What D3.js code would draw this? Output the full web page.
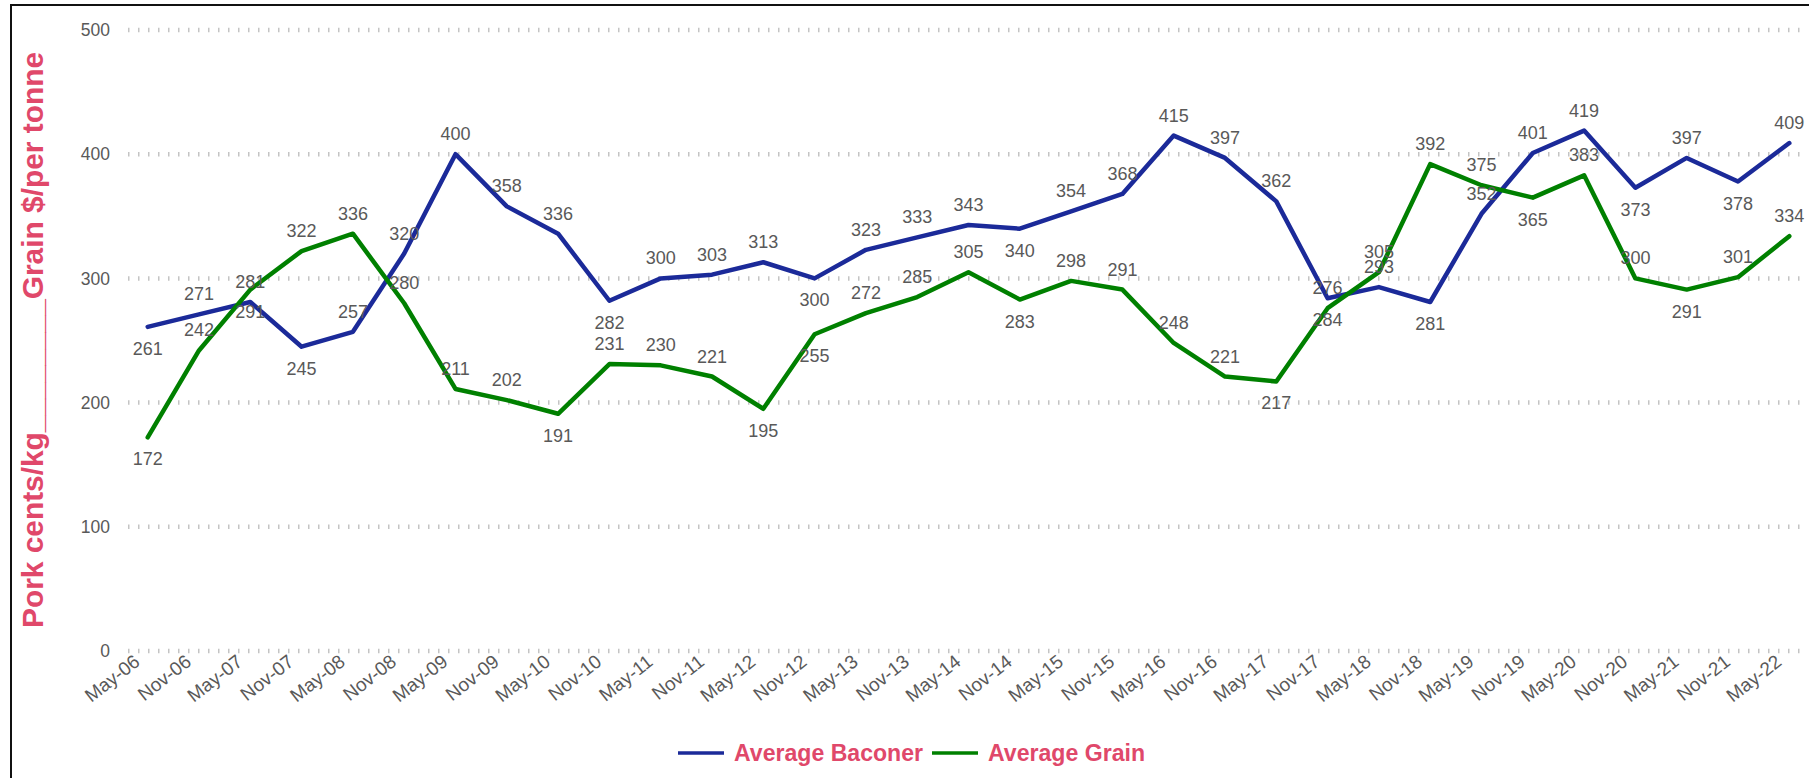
<!DOCTYPE html>
<html>
<head>
<meta charset="utf-8">
<script src="https://cdn.jsdelivr.net/npm/d3@7"></script>
<style>
  body { margin: 0; background: #fff; }
  svg { display: block; font-family: "Liberation Sans", Arial, sans-serif; }
</style>
</head>
<body>
<svg id="chart" width="1809" height="778"></svg>
<script>
// half-yearly categories
const dates = ["May-06","Nov-06","May-07","Nov-07","May-08","Nov-08","May-09","Nov-09",
  "May-10","Nov-10","May-11","Nov-11","May-12","Nov-12","May-13","Nov-13","May-14",
  "Nov-14","May-15","Nov-15","May-16","Nov-16","May-17","Nov-17","May-18","Nov-18",
  "May-19","Nov-19","May-20","Nov-20","May-21","Nov-21","May-22"];

const baconer = [261,271,281,245,257,320,400,358,336,282,300,303,313,300,323,333,343,
  340,354,368,415,397,362,284,293,281,352,401,419,373,397,378,409];

const grain = [172,242,291,322,336,280,211,202,191,231,230,221,195,255,272,285,305,
  283,298,291,248,221,217,276,305,392,375,365,383,300,291,301,334];

const yTicks = [0, 100, 200, 300, 400, 500];

// where each data label sits (a = above, b = below)
const baconerLabelPos = ["b","a","a","b","a","a","a","a","a","b","a","a","a","b","a","a","a",
  "b","a","a","a","a","a","b","a","b","a","a","a","b","a","b","a"];
const grainLabelPos = ["b","a","b","a","a","a","a","a","b","a","a","a","b","b","a","a","a",
  "b","a","a","a","a","b","a","a","a","a","b","a","a","b","a","a"];

const labelColor = "#595959";
const titleColor = "#e0486a";

var svg = d3.select("#chart");

// outer frame (right and bottom edges are off the picture)
svg.append("rect")
  .attr("x", 11).attr("y", 5)
  .attr("width", 1830).attr("height", 800)
  .attr("fill", "none")
  .attr("stroke", "#111")
  .attr("stroke-width", 2);

var x = d3.scalePoint().domain(dates).range([147.7, 1789.3]);
var y = d3.scaleLinear().domain([0, 500]).range([651, 30]);

// dotted grid lines
svg.append("g").selectAll("line")
  .data(yTicks)
  .join("line")
  .attr("x1", 128).attr("x2", 1802)
  .attr("y1", d => y(d)).attr("y2", d => y(d))
  .attr("stroke", "#c4c4c4")
  .attr("stroke-width", 4.5)
  .attr("stroke-dasharray", "1.5,8.5");

// y axis labels
var yAxis = svg.append("g")
  .attr("transform", "translate(110,0)")
  .call(d3.axisLeft(y).tickValues(yTicks).tickSize(0).tickPadding(0));
yAxis.select(".domain").remove();
yAxis.selectAll("text")
  .attr("fill", labelColor)
  .attr("font-size", 17.5)
  .attr("font-family", "Liberation Sans, Arial, sans-serif");

// x axis labels
var xAxis = svg.append("g")
  .attr("transform", "translate(0,651)")
  .call(d3.axisBottom(x).tickSize(0).tickPadding(0));
xAxis.select(".domain").remove();
xAxis.selectAll("text")
  .attr("fill", labelColor)
  .attr("font-size", 19)
  .attr("font-family", "Liberation Sans, Arial, sans-serif")
  .attr("text-anchor", "end")
  .attr("dy", 0)
  .attr("y", 0)
  .attr("transform", "translate(-7,13) rotate(-38)");

// y title
svg.append("text")
  .attr("transform", "translate(43,340) rotate(-90)")
  .attr("text-anchor", "middle")
  .attr("font-size", 29)
  .attr("font-weight", "bold")
  .attr("fill", titleColor)
  .attr("textLength", 576)
  .attr("lengthAdjust", "spacingAndGlyphs")
  .text("Pork cents/kg________Grain $/per tonne");

var series = [
  { name: "Average Baconer", values: baconer, pos: baconerLabelPos, color: "#1b2a99" },
  { name: "Average Grain", values: grain, pos: grainLabelPos, color: "#008000" }
];

var line = d3.line()
  .x((d, i) => x(dates[i]))
  .y(d => y(d));

series.forEach(function(s) {
  svg.append("path")
    .datum(s.values)
    .attr("fill", "none")
    .attr("stroke", s.color)
    .attr("stroke-width", 4.5)
    .attr("stroke-linejoin", "round")
    .attr("stroke-linecap", "round")
    .attr("d", line);
});

// data labels drawn after both lines so they sit on top
series.forEach(function(s) {
  svg.append("g").selectAll("text")
    .data(s.values)
    .join("text")
    .attr("x", (d, i) => x(dates[i]))
    .attr("y", (d, i) => s.pos[i] == "a" ? y(d) - 14 : y(d) + 28)
    .attr("text-anchor", "middle")
    .attr("font-size", 18)
    .attr("fill", labelColor)
    .text(d => d);
});

// legend
var legend = svg.append("g");
var legendX = [678, 932];
var legendW = [189, 157];
series.forEach(function(s, i) {
  legend.append("line")
    .attr("x1", legendX[i]).attr("x2", legendX[i] + 46)
    .attr("y1", 753).attr("y2", 753)
    .attr("stroke", s.color)
    .attr("stroke-width", 3.5);
  legend.append("text")
    .attr("x", legendX[i] + 56)
    .attr("y", 761)
    .attr("font-size", 23)
    .attr("font-weight", "bold")
    .attr("fill", titleColor)
    .attr("textLength", legendW[i])
    .attr("lengthAdjust", "spacingAndGlyphs")
    .text(s.name);
});
</script>
</body>
</html>
